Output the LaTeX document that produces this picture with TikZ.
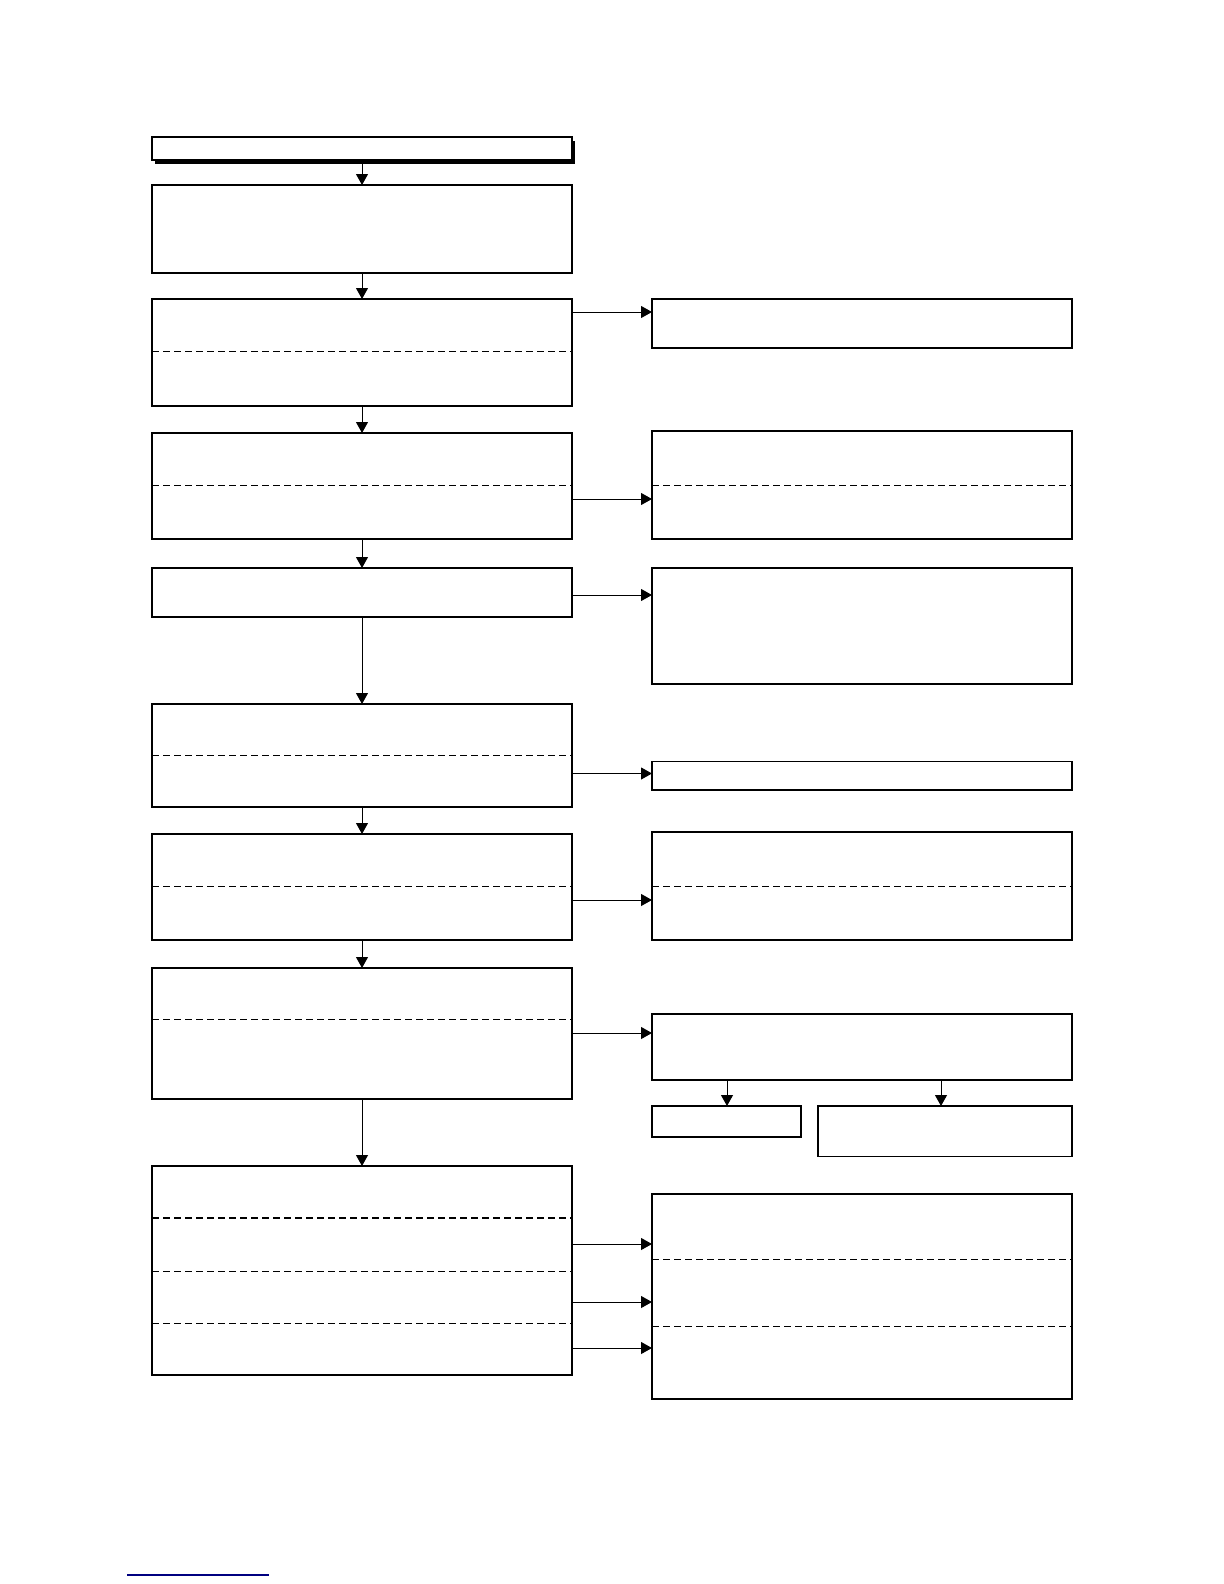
\documentclass[tikz,border=0pt]{standalone}
\usetikzlibrary{arrows.meta,shadows}
\begin{document}
\begin{tikzpicture}[
    x=0.5pt, y=-0.5pt,
    box/.style = {draw, rectangle, line width=0.6pt, inner sep=0pt, outer sep=0pt, anchor=north west},
    col/.style = {box, minimum width=210pt},
    sep/.style = {line width=0.5pt, dash pattern=on 3.5pt off 2pt},
    arr/.style = {line width=0.5pt, -{Triangle[length=5.5pt,width=6pt]}}
  ]
  \useasboundingbox (0,0) rectangle (1224,1584);

  % left column
  \node[col, minimum height=11.5pt, fill=white,
        drop shadow={shadow xshift=1.5pt, shadow yshift=-2pt, fill=black, opacity=1}] (b0) at (152,137) {};
  \node[col, minimum height=44pt] (b1) at (152,185) {};
  \node[col, minimum height=53.5pt] (b2) at (152,299) {};
  \node[col, minimum height=53pt] (b3) at (152,433) {};
  \node[col, minimum height=24.5pt] (b4) at (152,568) {};
  \node[col, minimum height=51.5pt] (b5) at (152,704) {};
  \node[col, minimum height=53pt] (b6) at (152,834) {};
  \node[col, minimum height=65.5pt] (b7) at (152,968) {};
  \node[col, minimum height=104.5pt] (b8) at (152,1166) {};

  % right column
  \node[col, minimum height=24.5pt] (r2) at (652,299) {};
  \node[col, minimum height=54pt] (r3) at (652,431) {};
  \node[col, minimum height=58pt] (r4) at (652,568) {};
  \node[col, minimum height=14.25pt] (r5) at (652,761.5) {};
  \node[col, minimum height=54pt] (r6) at (652,832) {};
  \node[col, minimum height=33pt] (r7) at (652,1014) {};
  \node[box, minimum width=74.5pt, minimum height=15.5pt] (r7a) at (652,1106) {};
  \node[box, minimum width=127pt, minimum height=25.25pt] (r7b) at (818,1106) {};
  \node[col, minimum height=102.5pt] (r8) at (652,1194) {};

  % dashed dividers
  \draw[sep] (b2.west |- 0,351) -- (b2.east |- 0,351);
  \draw[sep] (b3.west |- 0,485) -- (b3.east |- 0,485);
  \draw[sep] (b5.west |- 0,755.5) -- (b5.east |- 0,755.5);
  \draw[sep] (b6.west |- 0,886) -- (b6.east |- 0,886);
  \draw[sep] (b7.west |- 0,1019) -- (b7.east |- 0,1019);
  \draw[sep, line width=0.8pt] (b8.west |- 0,1218) -- (b8.east |- 0,1218);
  \draw[sep, line width=0.8pt] (b8.west |- 0,1271.5) -- (b8.east |- 0,1271.5);
  \draw[sep] (b8.west |- 0,1323) -- (b8.east |- 0,1323);
  \draw[sep] (r3.west |- 0,485) -- (r3.east |- 0,485);
  \draw[sep] (r6.west |- 0,886) -- (r6.east |- 0,886);
  \draw[sep] (r8.west |- 0,1259.5) -- (r8.east |- 0,1259.5);
  \draw[sep] (r8.west |- 0,1326) -- (r8.east |- 0,1326);

  % main flow
  \draw[arr] (b0.south) -- (b1.north);
  \draw[arr] (b1.south) -- (b2.north);
  \draw[arr] (b2.south) -- (b3.north);
  \draw[arr] (b3.south) -- (b4.north);
  \draw[arr] (b4.south) -- (b5.north);
  \draw[arr] (b5.south) -- (b6.north);
  \draw[arr] (b6.south) -- (b7.north);
  \draw[arr] (b7.south) -- (b8.north);

  % side branches
  \draw[arr] (b2.east |- 0,312) -- (r2.west |- 0,312);
  \draw[arr] (b3.east |- 0,499) -- (r3.west |- 0,499);
  \draw[arr] (b4.east |- 0,595) -- (r4.west |- 0,595);
  \draw[arr] (b5.east |- 0,773.5) -- (r5.west |- 0,773.5);
  \draw[arr] (b6.east |- 0,900) -- (r6.west |- 0,900);
  \draw[arr] (b7.east |- 0,1033) -- (r7.west |- 0,1033);
  \draw[arr] (r7.south -| 727,0) -- (r7a.north -| 727,0);
  \draw[arr] (r7.south -| 941,0) -- (r7b.north -| 941,0);
  \draw[arr] (b8.east |- 0,1244) -- (r8.west |- 0,1244);
  \draw[arr] (b8.east |- 0,1302) -- (r8.west |- 0,1302);
  \draw[arr] (b8.east |- 0,1348) -- (r8.west |- 0,1348);

  % footer rule
  \draw[blue!50!black, line width=0.6pt] (127,1575) -- (269,1575);
\end{tikzpicture}
\end{document}
